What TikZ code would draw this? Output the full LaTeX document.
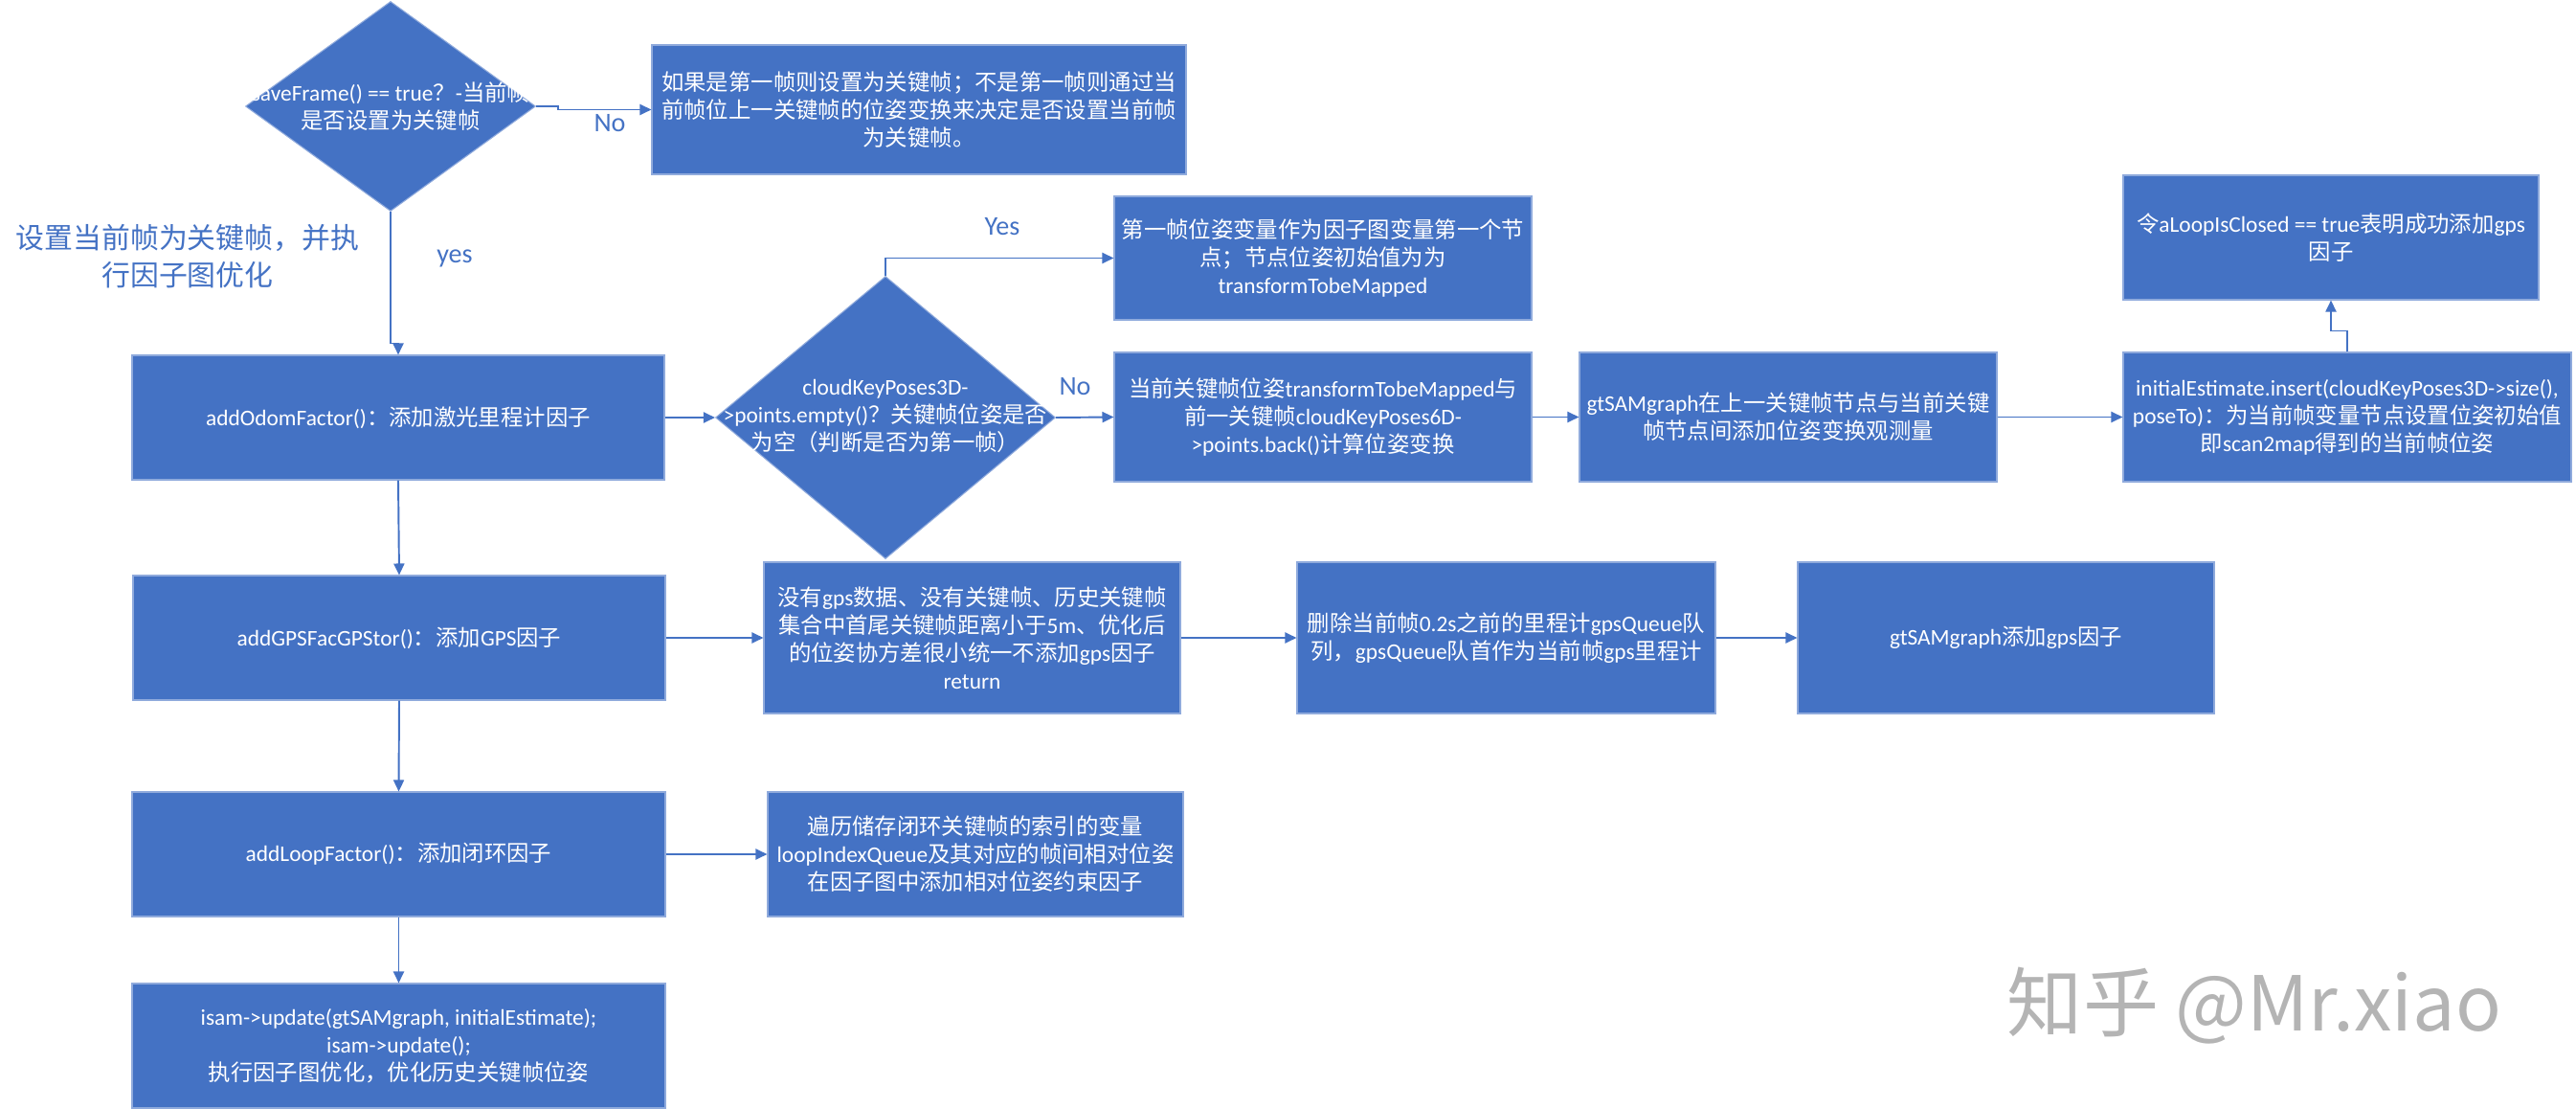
\documentclass[tikz,border=0pt]{standalone}
\usepackage[rgb]{xcolor}
\usepackage{tikz}
\usepackage{fontspec}
\usetikzlibrary{shapes.geometric,arrows.meta}
\setmainfont{Noto Sans CJK SC}
\newfontfamily\latfont{Carlito}
\newcommand\entxt[1]{{\latfont #1}}
\definecolor{boxblue}{HTML}{4472C4}
\definecolor{rimblue}{HTML}{8FAADC}
\definecolor{markgray}{HTML}{B4B4B4}

\begin{document}
\begin{tikzpicture}[y=-1cm,
  box/.style={rectangle, fill=boxblue, draw=rimblue, line width=0.6pt, inner sep=0pt, text=white, align=center, font=\fontsize{13.3}{16.5}\selectfont},
  decision/.style={diamond, fill=boxblue, draw=rimblue, line width=0.6pt, inner sep=0pt},
  boxtext/.style={text=white, align=center, inner sep=0pt, font=\fontsize{13.3}{16.5}\selectfont},
  link/.style={draw=boxblue, line width=1.1pt, -{Triangle[length=0.24cm,width=0.22cm]}},
  tag/.style={text=boxblue, inner sep=0pt, font=\latfont\fontsize{16}{19}\selectfont}
]

\useasboundingbox (0,0) rectangle (53.82,23.16);


% Key frame decision
\path
(8.16,2.22) node[decision, minimum width=6.06cm, minimum height=4.38cm] (d1) {}
(8.16,2.22) node[boxtext] (d1text) {\entxt{saveFrame() == true}？\entxt{-}当前帧\\是否设置为关键帧}
(19.20,2.29) node[box, minimum width=11.16cm, minimum height=2.70cm] (note1)
  {如果是第一帧则设置为关键帧；不是第一帧则通过当\\前帧位上一关键帧的位姿变换来决定是否设置当前帧\\为关键帧。};

\path
(3.92,5.36) node[text=boxblue, align=center, inner sep=0pt, font=\fontsize{17}{22.1}\selectfont] (keynote)
  {设置当前帧为关键帧，并执\\行因子图优化}
(12.74,2.58) node[tag] (nolbl1) {No}
(9.50,5.40) node[tag] (yeslbl1) {yes};

\draw[link] (d1.east) -- ++(0.46,0) |- (note1.west);


% Left column: factors
\path
(8.32,8.72) node[box, minimum width=11.12cm, minimum height=2.60cm] (odom)
  {\entxt{addOdomFactor()}：添加激光里程计因子}
(8.34,13.32) node[box, minimum width=11.12cm, minimum height=2.60cm] (gps)
  {\entxt{addGPSFacGPStor()}：添加\entxt{GPS}因子}
(8.33,17.84) node[box, minimum width=11.14cm, minimum height=2.60cm] (loop)
  {\entxt{addLoopFactor()}：添加闭环因子}
(8.33,21.84) node[box, minimum width=11.14cm, minimum height=2.60cm] (upd)
  {\entxt{isam->update(gtSAMgraph, initialEstimate);}\\\entxt{isam->update();}\\执行因子图优化，优化历史关键帧位姿};

\draw[link] (d1.south) -- ++(0,2.75) -| (odom.north);
\draw[link] (odom.south) -- (gps.north);
\draw[link] (gps.south) -- (loop.north);
\draw[link] (loop.south) -- (upd.north);


% Odometry factor row
\path
(18.50,8.72) node[decision, minimum width=7.10cm, minimum height=5.90cm] (d2) {}
(18.50,8.69) node[boxtext] (d2text)
  {\entxt{cloudKeyPoses3D-}\\\entxt{>points.empty()}？关键帧位姿是否\\为空（判断是否为第一帧）}
(27.64,5.39) node[box, minimum width=8.72cm, minimum height=2.58cm] (first)
  {第一帧位姿变量作为因子图变量第一个节\\点；节点位姿初始值为为\\\entxt{transformTobeMapped}}
(27.64,8.71) node[box, minimum width=8.72cm, minimum height=2.70cm] (rel)
  {当前关键帧位姿\entxt{transformTobeMapped}与\\前一关键帧\entxt{cloudKeyPoses6D-}\\\entxt{>points.back()}计算位姿变换}
(37.36,8.71) node[box, minimum width=8.72cm, minimum height=2.70cm] (between)
  {\entxt{gtSAMgraph}在上一关键帧节点与当前关键\\帧节点间添加位姿变换观测量}
(49.04,8.71) node[box, minimum width=9.36cm, minimum height=2.70cm] (init)
  {\entxt{initialEstimate.insert(cloudKeyPoses3D->size(),}\\\entxt{poseTo)}：为当前帧变量节点设置位姿初始值\\即\entxt{scan2map}得到的当前帧位姿}
(48.70,4.96) node[box, minimum width=8.68cm, minimum height=2.60cm] (closed)
  {令\entxt{aLoopIsClosed == true}表明成功添加\entxt{gps}\\因子};

\path
(20.94,4.74) node[tag] (yeslbl2) {Yes}
(22.46,8.08) node[tag] (nolbl2) {No};

\draw[link] (odom.east) -- (d2.west);
\draw[link] (d2.north) |- (first.west);
\draw[link] (d2.east) -- (rel.west);
\draw[link] (rel.east) -- (between.west);
\draw[link] (between.east) -- (init.west);
\draw[link] (init.north) -- ++(0,-0.44) -| (closed.south);


% GPS factor row
\path
(20.31,13.32) node[box, minimum width=8.70cm, minimum height=3.16cm] (nogps)
  {没有\entxt{gps}数据、没有关键帧、历史关键帧\\集合中首尾关键帧距离小于\entxt{5m}、优化后\\的位姿协方差很小统一不添加\entxt{gps}因子\\\entxt{return}}
(31.47,13.32) node[box, minimum width=8.74cm, minimum height=3.16cm] (drop)
  {删除当前帧\entxt{0.2s}之前的里程计\entxt{gpsQueue}队\\列，\entxt{gpsQueue}队首作为当前帧\entxt{gps}里程计}
(41.91,13.32) node[box, minimum width=8.70cm, minimum height=3.16cm] (gpsadd)
  {\entxt{gtSAMgraph}添加\entxt{gps}因子};

\draw[link] (gps.east) -- (nogps.west);
\draw[link] (nogps.east) -- (drop.west);
\draw[link] (drop.east) -- (gpsadd.west);


% Loop factor row
\path
(20.38,17.84) node[box, minimum width=8.68cm, minimum height=2.60cm] (loopq)
  {遍历储存闭环关键帧的索引的变量\\\entxt{loopIndexQueue}及其对应的帧间相对位姿\\在因子图中添加相对位姿约束因子};

\draw[link] (loop.east) -- (loopq.west);


% Watermark
\path
(47.10,21.00) node[text=markgray, inner sep=0pt, font=\fontsize{45}{50}\selectfont] (mark) {知乎 @Mr.xiao};

\end{tikzpicture}
\end{document}
